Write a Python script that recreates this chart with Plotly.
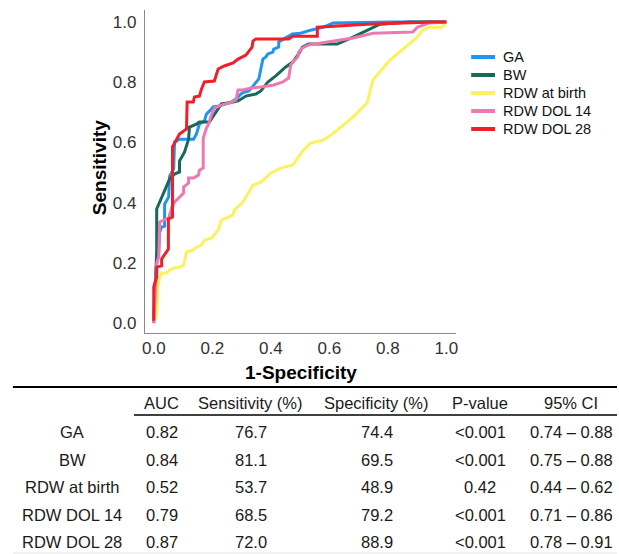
import plotly.graph_objects as go

W, H = 619, 554

# ROC curve points (1-Specificity, Sensitivity)
ga_x = [0, 0.003, 0.01, 0.017, 0.02, 0.027, 0.037, 0.037, 0.051, 0.054, 0.068, 0.071, 0.088, 0.119, 0.136,
        0.146, 0.156, 0.173, 0.18, 0.19, 0.203, 0.224, 0.247, 0.264, 0.281, 0.298, 0.308, 0.325, 0.339,
        0.349, 0.359, 0.366, 0.373, 0.383, 0.39, 0.407, 0.41, 0.427, 0.427, 0.474, 0.502, 0.536, 0.58,
        0.613, 0.807, 1.0]
ga_y = [0, 0.113, 0.196, 0.236, 0.302, 0.319, 0.322, 0.395, 0.419, 0.488, 0.512, 0.601, 0.611, 0.611, 0.611,
        0.628, 0.661, 0.671, 0.694, 0.704, 0.718, 0.721, 0.728, 0.734, 0.744, 0.761, 0.767, 0.771, 0.787,
        0.801, 0.811, 0.844, 0.877, 0.884, 0.894, 0.9, 0.91, 0.917, 0.934, 0.96, 0.963, 0.973, 0.983,
        0.997, 1.0, 1.0]

bw_x = [0, 0.005, 0.01, 0.01, 0.034, 0.054, 0.071, 0.088, 0.088, 0.105, 0.119, 0.122, 0.146, 0.156, 0.19,
        0.214, 0.231, 0.271, 0.288, 0.315, 0.349, 0.366, 0.39, 0.417, 0.451, 0.475, 0.495, 0.508, 0.529,
        0.627, 0.681, 0.773, 0.875, 1.0]
bw_y = [0, 0.1, 0.239, 0.379, 0.435, 0.478, 0.495, 0.502, 0.538, 0.568, 0.611, 0.651, 0.661, 0.668, 0.668,
        0.704, 0.728, 0.734, 0.738, 0.754, 0.761, 0.771, 0.801, 0.821, 0.851, 0.867, 0.894, 0.917, 0.927,
        0.927, 0.95, 0.993, 1.0, 1.0]

birth_x = [0, 0.01, 0.014, 0.02, 0.027, 0.044, 0.054, 0.071, 0.088, 0.102, 0.112, 0.136, 0.146, 0.163,
           0.173, 0.197, 0.22, 0.231, 0.247, 0.271, 0.275, 0.305, 0.339, 0.366, 0.4, 0.434, 0.475, 0.495,
           0.512, 0.536, 0.58, 0.614, 0.681, 0.729, 0.749, 0.807, 0.847, 0.898, 0.919, 0.942, 0.986, 1.0]
birth_y = [0, 0.03, 0.12, 0.153, 0.166, 0.166, 0.176, 0.183, 0.186, 0.193, 0.236, 0.243, 0.252, 0.259,
           0.276, 0.282, 0.309, 0.342, 0.349, 0.359, 0.375, 0.402, 0.458, 0.468, 0.498, 0.515, 0.525, 0.551,
           0.575, 0.598, 0.608, 0.631, 0.684, 0.731, 0.807, 0.874, 0.907, 0.947, 0.973, 0.983, 0.983, 1.0]

dol14_x = [0, 0.005, 0.01, 0.017, 0.02, 0.051, 0.061, 0.071, 0.088, 0.102, 0.102, 0.119, 0.119, 0.136,
           0.153, 0.156, 0.169, 0.169, 0.18, 0.186, 0.197, 0.207, 0.231, 0.258, 0.281, 0.288, 0.305, 0.332,
           0.366, 0.41, 0.441, 0.461, 0.468, 0.475, 0.492, 0.495, 0.508, 0.529, 0.681, 0.749, 0.885, 0.902,
           0.942, 1.0]
dol14_y = [0, 0.12, 0.2, 0.22, 0.336, 0.349, 0.382, 0.402, 0.419, 0.432, 0.452, 0.465, 0.482, 0.482,
           0.492, 0.508, 0.515, 0.615, 0.648, 0.658, 0.691, 0.714, 0.724, 0.731, 0.741, 0.774, 0.774, 0.781,
           0.784, 0.791, 0.801, 0.814, 0.857, 0.867, 0.884, 0.9, 0.914, 0.924, 0.947, 0.963, 0.967, 0.983,
           0.997, 1.0]

dol28_x = [0, 0, 0.01, 0.01, 0.027, 0.027, 0.05, 0.05, 0.064, 0.064, 0.088, 0.112, 0.114, 0.135, 0.139,
           0.156, 0.163, 0.173, 0.207, 0.22, 0.241, 0.271, 0.288, 0.315, 0.336, 0.339, 0.349, 0.461, 0.475,
           0.559, 0.559, 0.729, 0.953, 1.0]
dol28_y = [0.008, 0.12, 0.153, 0.186, 0.19, 0.213, 0.246, 0.346, 0.352, 0.585, 0.628, 0.645, 0.734, 0.734,
           0.751, 0.754, 0.777, 0.801, 0.804, 0.844, 0.854, 0.864, 0.877, 0.89, 0.917, 0.937, 0.944, 0.944,
           0.953, 0.953, 0.983, 0.993, 1.0, 1.0]

series_names = ["GA", "BW", "RDW at birth", "RDW DOL 14", "RDW DOL 28"]
series_x = [ga_x, bw_x, birth_x, dol14_x, dol28_x]
series_y = [ga_y, bw_y, birth_y, dol14_y, dol28_y]
series_colors = ["#1e96f0", "#17695b", "#fbf25e", "#ef78b0", "#f01f28"]

x_ticks = [0.0, 0.2, 0.4, 0.6, 0.8, 1.0]
y_ticks = [0.0, 0.2, 0.4, 0.6, 0.8, 1.0]

# Table values
col_headers = ["AUC", "Sensitivity (%)", "Specificity (%)", "P-value", "95% CI"]
row_labels = ["GA", "BW", "RDW at birth", "RDW DOL 14", "RDW DOL 28"]
auc = ["0.82", "0.84", "0.52", "0.79", "0.87"]
sens = ["76.7", "81.1", "53.7", "68.5", "72.0"]
spec = ["74.4", "69.5", "48.9", "79.2", "88.9"]
pval = ["&lt;0.001", "&lt;0.001", "0.42", "&lt;0.001", "&lt;0.001"]
ci = ["0.74 – 0.88", "0.75 – 0.88", "0.44 – 0.62", "0.71 – 0.86", "0.78 – 0.91"]

fig = go.Figure()
for name, xs, ys, c in zip(series_names, series_x, series_y, series_colors):
    fig.add_trace(go.Scatter(x=xs, y=ys, mode="lines", name=name,
                             line=dict(color=c, width=3), hoverinfo="skip", showlegend=False))

def px(x):
    return x / W

def py(y):
    return 1 - y / H

tick_font = dict(family="Liberation Sans", size=17, color="#333333")
fig.update_layout(
    width=W, height=H,
    margin=dict(l=0, r=0, t=0, b=0),
    paper_bgcolor="white", plot_bgcolor="white",
    showlegend=False,
    xaxis=dict(domain=[px(143), px(457)], range=[-0.0305, 1.034],
               tickvals=x_ticks, ticktext=["%.1f" % v for v in x_ticks],
               showgrid=False, zeroline=False, showline=True, linecolor="#8a8a8a", linewidth=1,
               ticks="", tickfont=tick_font, fixedrange=True),
    yaxis=dict(domain=[py(333), py(10)], range=[-0.033, 1.04],
               tickvals=y_ticks, ticktext=["%.1f" % v for v in y_ticks],
               showgrid=False, zeroline=False, showline=True, linecolor="#8a8a8a", linewidth=1,
               ticks="", tickfont=tick_font, ticklabelstandoff=4, fixedrange=True),
)

annos = []
shapes = []
title_font = dict(family="Liberation Sans", size=19, color="#000000")
annos.append(dict(x=px(300), y=py(372), xref="paper", yref="paper", text="<b>1-Specificity</b>",
                  showarrow=False, xanchor="center", yanchor="middle", font=title_font))
annos.append(dict(x=px(97), y=py(168), xref="paper", yref="paper", text="<b>Sensitivity</b>",
                  showarrow=False, xanchor="center", yanchor="middle", textangle=-90, font=title_font))

# Legend (line sample + label per series)
legend_font = dict(family="Liberation Sans", size=14.5, color="#111111")
legend_y = [57, 75, 93, 111, 129]
for name, c, ly in zip(series_names, series_colors, legend_y):
    shapes.append(dict(type="line", xref="paper", yref="paper", x0=px(472), x1=px(496),
                       y0=py(ly), y1=py(ly), line=dict(color=c, width=4)))
    annos.append(dict(x=px(502), y=py(ly), xref="paper", yref="paper", text=name,
                      showarrow=False, xanchor="left", yanchor="middle", font=legend_font))

# Table
table_font = dict(family="Liberation Sans", size=16.5, color="#1a1a1a")
col_x = [160, 250, 377, 481, 573]
label_x = 70
header_y = 403
row_y = [432, 459.5, 487, 514.5, 542]
for cx, htxt in zip(col_x, col_headers):
    annos.append(dict(x=px(cx), y=py(header_y), xref="paper", yref="paper", text=htxt,
                      showarrow=False, xanchor="center", yanchor="middle", font=table_font))
columns = [auc, sens, spec, pval, ci]
for i, lab in enumerate(row_labels):
    annos.append(dict(x=px(label_x), y=py(row_y[i]), xref="paper", yref="paper", text=lab,
                      showarrow=False, xanchor="center", yanchor="middle", font=table_font))
    for cx, col in zip(col_x, columns):
        annos.append(dict(x=px(cx), y=py(row_y[i]), xref="paper", yref="paper", text=col[i],
                          showarrow=False, xanchor="center", yanchor="middle", font=table_font))

shapes += [
    dict(type="line", xref="paper", yref="paper", x0=px(10), x1=1, y0=py(387), y1=py(387),
         line=dict(color="#000000", width=2)),
    dict(type="line", xref="paper", yref="paper", x0=px(132), x1=1, y0=py(415), y1=py(415),
         line=dict(color="#000000", width=1.5)),
    dict(type="line", xref="paper", yref="paper", x0=px(10), x1=1, y0=py(553), y1=py(553),
         line=dict(color="#e6e6e6", width=1)),
]
fig.update_layout(annotations=annos, shapes=shapes)

fig.write_html("out.html", config={"displayModeBar": False, "staticPlot": True},
               post_script="document.body.style.margin='0';document.body.style.overflow='hidden';")
